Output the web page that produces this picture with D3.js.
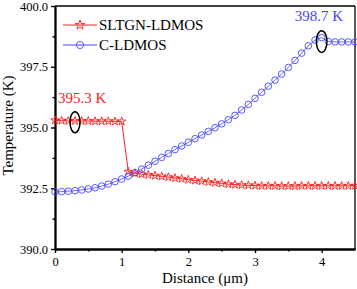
<!DOCTYPE html>
<html><head><meta charset="utf-8">
<script src="https://cdn.jsdelivr.net/npm/d3@7"></script>
<style>body{margin:0;background:#fff}svg{display:block}</style>
</head><body>
<svg id="c" width="357" height="289"></svg>
<script>
const distance = d3.range(0, 46).map(i => +(i*0.1).toFixed(1));
const sltgn = [395.30,395.28,395.27,395.27,395.27,395.27,395.26,395.26,395.26,395.25,395.25,
  393.18,393.12,393.08,393.05,393.02,392.99,392.96,392.92,392.89,392.85,
  392.82,392.79,392.76,392.73,392.70,392.67,392.65,392.63,392.62,392.61,
  392.60,392.60,392.60,392.59,392.59,392.59,392.60,392.60,392.60,392.60,
  392.60,392.60,392.60,392.60,392.60];
const cldmos = [392.35,392.36,392.38,392.40,392.43,392.47,392.52,392.59,392.67,392.77,392.88,
  393.00,393.14,393.29,393.45,393.61,393.77,393.93,394.09,394.24,394.39,
  394.54,394.69,394.84,394.99,395.15,395.32,395.50,395.72,395.95,396.20,
  396.45,396.70,396.95,397.20,397.47,397.76,398.06,398.36,398.60,398.70,
  398.54,398.52,398.52,398.52,398.52];
const xTicks = [0,1,2,3,4];
const xMinor = [0.5,1.5,2.5,3.5];
const yTicks = [390,392.5,395,397.5,400];
const yMinor = [391.25,393.75,396.25,398.75];
const seriesNames = ["SLTGN-LDMOS","C-LDMOS"];
const annotations = [{x:0.3, y:395.3, label:"395.3 K"},{x:4.0, y:398.7, label:"398.7 K"}];

const FONT = "'Liberation Serif', 'Times New Roman', Times, serif";
const red = "#ff2020", blue = "#4646ff";
const svg = d3.select("#c");
const L=55,R=355,T=6,B=249;
const x = d3.scaleLinear([0,4.5],[L,R]);
const y = d3.scaleLinear([390,400],[B,T]);

// frame
svg.append("line").attr("x1",L).attr("x2",R).attr("y1",T).attr("y2",T).attr("stroke","#000").attr("stroke-width",1.3);
svg.append("line").attr("x1",R).attr("x2",R).attr("y1",T).attr("y2",B).attr("stroke","#000").attr("stroke-width",1.3);

// axes
const ax = svg.append("g").attr("transform",`translate(0,${B})`)
  .call(d3.axisBottom(x).tickValues(xTicks).tickFormat(d3.format("d")).tickSize(4).tickSizeOuter(0));
const axm = svg.append("g").attr("transform",`translate(0,${B})`)
  .call(d3.axisBottom(x).tickValues(xMinor).tickFormat("").tickSize(2.5).tickSizeOuter(0));
const ay = svg.append("g").attr("transform",`translate(${L},0)`)
  .call(d3.axisLeft(y).tickValues(yTicks).tickFormat(d3.format(".1f")).tickSize(4).tickSizeOuter(0));
const aym = svg.append("g").attr("transform",`translate(${L},0)`)
  .call(d3.axisLeft(y).tickValues(yMinor).tickFormat("").tickSize(2.5).tickSizeOuter(0));
[ax,axm,ay,aym].forEach(g=>{
  g.attr("font-family",null).attr("font-size",null);
  g.select(".domain").attr("stroke","#000").attr("stroke-width",1.8);
  g.selectAll(".tick line").attr("stroke","#000").attr("stroke-width",1.4);
  g.selectAll("text").style("font-family",FONT).style("font-size","12.5px").attr("fill","#000");
});
ax.selectAll("text").attr("dy","0.71em").attr("y",8);
ay.selectAll("text").attr("x",-7);

// lines
const line = d3.line().x((d,i)=>x(distance[i])).y(d=>y(d));
svg.append("path").datum(sltgn).attr("d",line).attr("fill","none").attr("stroke",red).attr("stroke-width",1);
svg.append("path").datum(cldmos).attr("d",line).attr("fill","none").attr("stroke",blue).attr("stroke-width",0.8);

const star = d3.symbol().type(d3.symbolStar).size(22);
svg.append("g").selectAll("path").data(sltgn).join("path")
  .attr("d",star).attr("transform",(d,i)=>`translate(${x(distance[i])},${y(d)})`)
  .attr("fill","none").attr("stroke",red).attr("stroke-width",0.9);
svg.append("g").selectAll("circle").data(cldmos).join("circle")
  .attr("cx",(d,i)=>x(distance[i])).attr("cy",d=>y(d)).attr("r",3.3)
  .attr("fill","none").attr("stroke",blue).attr("stroke-width",0.9);

function txt(sel){ return sel.style("font-family",FONT); }

// annotations
const cols=[red,blue];
txt(svg.append("text")).attr("x",x(annotations[0].x)-17).attr("y",103).style("font-size","15px").attr("fill",red).text(annotations[0].label);
txt(svg.append("text")).attr("x",x(annotations[1].x)-27).attr("y",21).style("font-size","15px").attr("fill",blue).text(annotations[1].label);
svg.append("ellipse").attr("cx",x(annotations[0].x)).attr("cy",y(annotations[0].y)+2).attr("rx",5).attr("ry",10.5).attr("fill","none").attr("stroke","#000").attr("stroke-width",1.5);
svg.append("ellipse").attr("cx",x(annotations[1].x)).attr("cy",y(annotations[1].y)+4).attr("rx",5.3).attr("ry",10.8).attr("fill","none").attr("stroke","#000").attr("stroke-width",1.5);

// legend
const lg = svg.append("g");
[0,1].forEach(i=>{
  const yy = 25 + i*20;
  lg.append("line").attr("x1",63).attr("x2",97).attr("y1",yy).attr("y2",yy).attr("stroke",cols[i]).attr("stroke-width",1);
  if(i===0) lg.append("path").attr("d",d3.symbol().type(d3.symbolStar).size(28)()).attr("transform",`translate(80,${yy})`).attr("fill","none").attr("stroke",red).attr("stroke-width",0.9);
  else lg.append("circle").attr("cx",80).attr("cy",yy).attr("r",3.6).attr("fill","none").attr("stroke",blue).attr("stroke-width",0.9);
  txt(lg.append("text")).attr("x",99).attr("y",yy+5).style("font-size","15px").attr("fill","#000").text(seriesNames[i]);
});

// axis titles
txt(svg.append("text")).attr("x",(L+R)/2).attr("y",283).attr("text-anchor","middle").style("font-size","15px").text("Distance (μm)");
txt(svg.append("text")).attr("transform",`translate(13,${(T+B)/2 - 2}) rotate(-90)`).attr("text-anchor","middle").style("font-size","15px").text("Temperature (K)");
</script>
</body></html>
